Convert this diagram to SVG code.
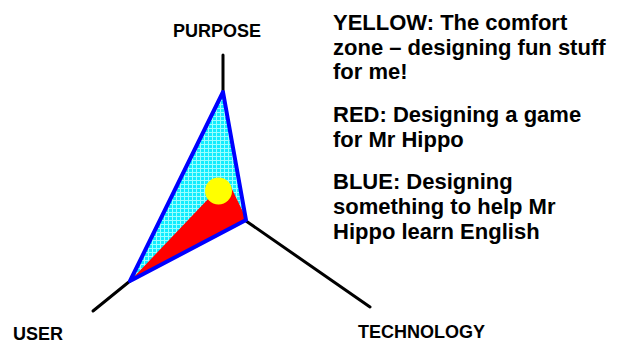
<svg xmlns="http://www.w3.org/2000/svg" width="619" height="345" viewBox="0 0 619 345">
<style>
text{font-family:"Liberation Sans",Arial,sans-serif;font-weight:bold;fill:#000}
.lab{font-size:18px}
.txt{font-size:22px}
.axis{stroke:#000;stroke-width:3;fill:none;stroke-linecap:round}
</style>
<defs>
<pattern id="grid" width="4" height="4" patternUnits="userSpaceOnUse">
<rect width="4" height="4" fill="#11ecff"/>
<path d="M0,0.5H4M0.5,0V4" stroke="#99ffff" stroke-width="1"/>
</pattern>
</defs>
<rect width="619" height="345" fill="#fff"/>
<g id="axes">
<line class="axis" x1="223" y1="55" x2="223" y2="92"/>
<line class="axis" x1="246" y1="221" x2="370" y2="307"/>
<line class="axis" x1="130" y1="281" x2="93" y2="311"/>
</g>
<g id="blue-area">
<polygon points="223,92 246,220 130,281" fill="url(#grid)"/>
</g>
<g id="red-area">
<polygon points="131,280 210,197 230,185 244,214 246,221" fill="#ff0000"/>
</g>
<g id="blue-outline">
<polygon points="223,92 246,220 130,281" fill="none" stroke="#0000ff" stroke-width="4" stroke-linejoin="round"/>
</g>
<g id="yellow-area">
<circle cx="218.5" cy="191" r="13.5" fill="#ffff00"/>
</g>
<g id="labels">
<text class="lab" x="173" y="37">PURPOSE</text>
<text class="lab" x="13" y="340">USER</text>
<text class="lab" x="358" y="338">TECHNOLOGY</text>
</g>
<g id="legend">
<text class="txt" x="333" y="30">YELLOW: The comfort</text>
<text class="txt" x="333" y="55">zone – designing fun stuff</text>
<text class="txt" x="333" y="79">for me!</text>
<text class="txt" x="333" y="122">RED: Designing a game</text>
<text class="txt" x="333" y="147">for Mr Hippo</text>
<text class="txt" x="333" y="189">BLUE: Designing</text>
<text class="txt" x="333" y="214">something to help Mr</text>
<text class="txt" x="333" y="239">Hippo learn English</text>
</g>
</svg>
